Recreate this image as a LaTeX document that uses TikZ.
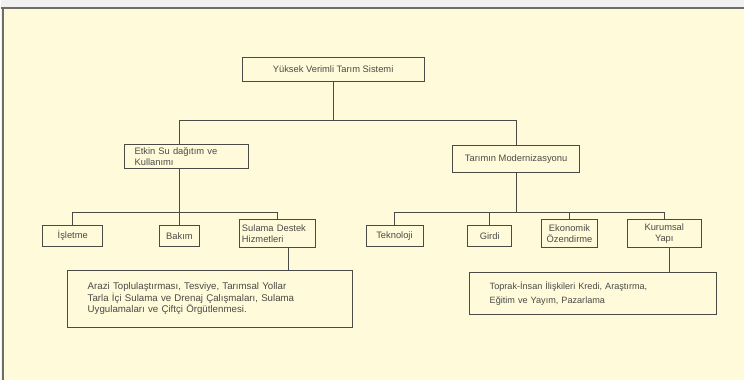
\documentclass[tikz,border=0pt]{standalone}
\usepackage{fontspec}
\setmainfont{Liberation Sans}
\usetikzlibrary{positioning}
\definecolor{paper}{HTML}{FFFADA}
\definecolor{inkgray}{HTML}{4A4A46}
\definecolor{framegray}{HTML}{6E6E68}
\tikzstyle{block} = [rectangle, draw=inkgray, line width=0.6pt, text=inkgray, font=\fontsize{8}{9.5}\selectfont, inner sep=0pt, align=center]
\tikzstyle{leftblock} = [block, align=left, inner xsep=0.3cm]
\tikzstyle{notebox} = [block, align=left, inner xsep=0.6cm, font=\fontsize{8.3}{10}\selectfont]
\tikzstyle{link} = [draw=inkgray, line width=0.6pt]

\begin{document}
\begin{tikzpicture}[x=0.03cm, y=-0.03cm]
    % Page
    \fill[white!94!black] (0,0) rectangle (745,381);
    \fill[paper] (2,8) rectangle (745,381);
    \draw[framegray, line width=1.6pt] (0,8) -- (745,8);
    \draw[framegray, line width=1.6pt] (2,8) -- (2,381);
    \useasboundingbox (0,0) rectangle (745,381);

    % Top
    \node[block, minimum width=5.46cm, minimum height=0.75cm] (sys) at (333,69.5) {Yüksek Verimli Tarım Sistemi};

    % Second level
    \node[leftblock, minimum width=3.72cm, minimum height=0.72cm, text width=3.12cm] (su) at (186,157) {Etkin Su dağıtım ve\\Kullanımı};
    \node[block, minimum width=3.81cm, minimum height=0.81cm] (mod) at (516.5,159.5) {Tarımın Modernizasyonu};

    % Third level, water
    \node[block, minimum width=1.8cm, minimum height=0.63cm] (isl) at (72,236.5) {İşletme};
    \node[block, minimum width=1.2cm, minimum height=0.63cm] (bak) at (179,236.5) {Bakım};
    \node[leftblock, minimum width=2.28cm, minimum height=0.84cm, inner xsep=0.08cm, text width=2.12cm] (sul) at (277,234) {Sulama Destek\\Hizmetleri};

    % Third level, modernisation
    \node[block, minimum width=1.71cm, minimum height=0.63cm] (tek) at (394.5,236.5) {Teknoloji};
    \node[block, minimum width=1.32cm, minimum height=0.63cm] (gir) at (490,236.5) {Girdi};
    \node[block, minimum width=1.68cm, minimum height=0.84cm] (eko) at (570,234) {Ekonomik\\Özendirme};
    \node[block, minimum width=2.22cm, minimum height=0.84cm] (kur) at (665,234) {Kurumsal\\Yapı};

    % Notes
    \node[notebox, minimum width=8.55cm, minimum height=1.71cm, text width=7.35cm] (arazi) at (209.5,299.5) {Arazi Toplulaştırması, Tesviye, Tarımsal Yollar\\Tarla İçi Sulama ve Drenaj Çalışmaları, Sulama\\Uygulamaları ve Çiftçi Örgütlenmesi.};
    \node[notebox, minimum width=7.41cm, minimum height=1.26cm, text width=6.21cm, font=\fontsize{7.8}{12}\selectfont] (toprak) at (593.5,294) {Toprak-İnsan İlişkileri Kredi, Araştırma,\\Eğitim ve Yayım, Pazarlama};

    % Junctions
    \coordinate (topj) at (333,121);
    \coordinate (suj) at (179,213);
    \coordinate (modj) at (516.5,213);

    % Lines
    \draw[link] (sys.south) -- (topj);
    \draw[link] (su.north -| suj) |- (topj) -| (mod.north);
    \draw[link] (su.south -| suj) -- (bak.north);
    \draw[link] (isl.north) |- (suj) -| (sul.north);
    \draw[link] (mod.south) -- (modj);
    \draw[link] (tek.north) |- (modj) -| (kur.north);
    \draw[link] (gir.north) -- (gir.north |- modj);
    \draw[link] (eko.north) -- (eko.north |- modj);
    \draw[link] ([xshift=0.33cm]sul.south) -- ([xshift=0.33cm]sul.south |- arazi.north);
    \draw[link] ([xshift=0.15cm]kur.south) -- ([xshift=0.15cm]kur.south |- toprak.north);
\end{tikzpicture}
\end{document}
